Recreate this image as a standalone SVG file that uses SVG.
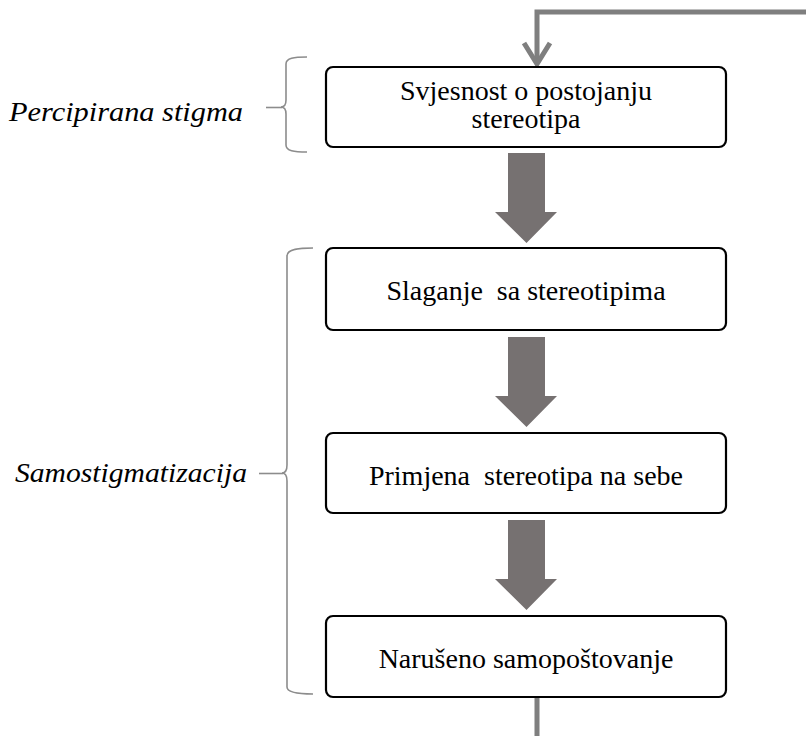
<svg xmlns="http://www.w3.org/2000/svg" width="806" height="736" viewBox="0 0 806 736">
<style>
.box{fill:#fff;stroke:#000;stroke-width:2.2}
.t{font-family:"Liberation Serif","Times New Roman",serif;font-size:28px;fill:#000;text-anchor:middle;white-space:pre}
.lbl{font-family:"Liberation Serif","Times New Roman",serif;font-size:28px;font-style:italic;fill:#000}
.blk{fill:#767171}
.conn{fill:none;stroke:#7f7f7f;stroke-width:5}
.brace{fill:none;stroke:#8c8c8c;stroke-width:1.6}
</style>
<rect width="806" height="736" fill="#fff"/>
<g id="labels">
<g id="label-percipirana">
<path class="brace" d="M307,57 C294,57 286,58 286,64 V100 C286,105 284,107 281,107 C284,107 286,109 286,114 V145 C286,151 294,152 307,152"/>
<path class="brace" d="M266,107.5 H282"/>
<text class="lbl" x="9" y="121" textLength="234" lengthAdjust="spacingAndGlyphs">Percipirana stigma</text>
</g>
<g id="label-samostigmatizacija">
<path class="brace" d="M313,248 C300,248 287,249 287,256 V465 C287,470 285,473 282,473 C285,473 287,476 287,481 V687 C287,693 300,694 313,694"/>
<path class="brace" d="M259,473.5 H283"/>
<text class="lbl" x="15" y="482" textLength="232" lengthAdjust="spacingAndGlyphs">Samostigmatizacija</text>
</g>
</g>
<g id="connectors">
<path class="conn" d="M806,12 H537 V63"/>
<path class="conn" d="M524,43 L537,64 L550,43"/>
<path class="blk" d="M508,153 H545 V212 H557 L526.5,243 L495,212 H508 Z"/>
<path class="blk" d="M508,337 H545 V396 H557 L526.5,427 L495,396 H508 Z"/>
<path class="blk" d="M508,520 H545 V579 H557 L526.5,610 L495,579 H508 Z"/>
<path class="conn" d="M537,697 V739 H806"/>
</g>
<g id="node1">
<rect class="box" x="326" y="67" width="400" height="80" rx="7"/>
<text class="t" x="526" y="100">Svjesnost o postojanju</text>
<text class="t" x="526" y="128">stereotipa</text>
</g>
<g id="node2">
<rect class="box" x="326" y="248" width="400" height="82" rx="7"/>
<text class="t" x="526" y="300" xml:space="preserve">Slaganje  sa stereotipima</text>
</g>
<g id="node3">
<rect class="box" x="326" y="433" width="400" height="80" rx="7"/>
<text class="t" x="526" y="485" xml:space="preserve">Primjena  stereotipa na sebe</text>
</g>
<g id="node4">
<rect class="box" x="326" y="616" width="400" height="81" rx="7"/>
<text class="t" x="526" y="668">Narušeno samopoštovanje</text>
</g>
</svg>
